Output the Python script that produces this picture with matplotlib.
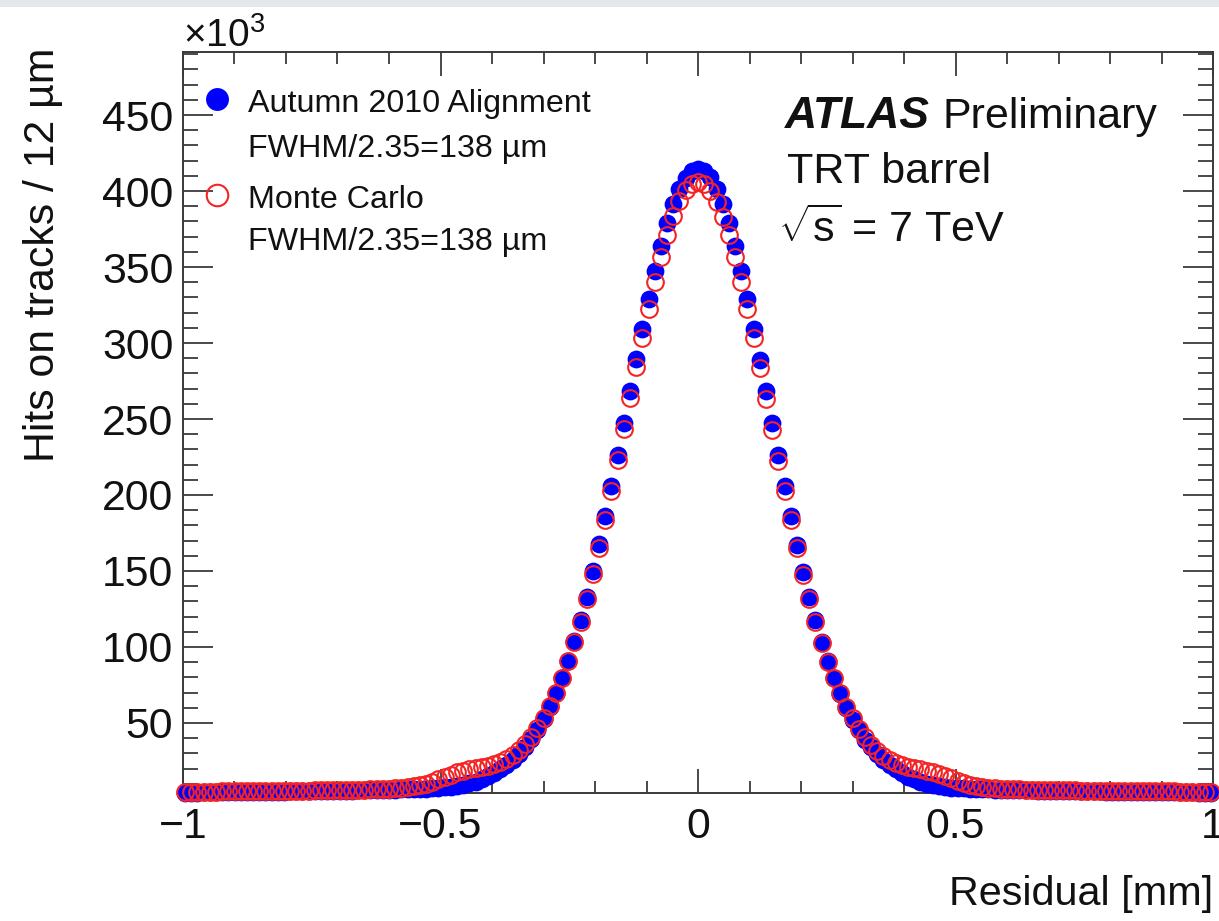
import numpy as np
import matplotlib
matplotlib.use("Agg")
import matplotlib.pyplot as plt
from matplotlib.ticker import FixedLocator, MultipleLocator, FixedFormatter
from matplotlib.patches import Rectangle

plt.rcParams["font.family"] = ["Liberation Sans", "DejaVu Sans"]
plt.rcParams["mathtext.fontset"] = "custom"
plt.rcParams["mathtext.rm"] = "Liberation Sans"
plt.rcParams["mathtext.it"] = "Liberation Sans:italic"
plt.rcParams["mathtext.bf"] = "Liberation Sans:bold"

# ---- histogram content: 12 um bins, counts in thousands of hits ----
BIN_WIDTH_MM = 0.012
bin_index = np.arange(-83, 84)
residual_mm = bin_index * BIN_WIDTH_MM

data_khits = [
    4.1, 4.2, 4.2, 4.3, 4.3, 4.3, 4.4, 4.4, 4.5, 4.5, 4.5, 4.6, 4.6, 4.7, 4.7, 4.8,
    4.8, 4.9, 4.9, 5.0, 5.0, 5.1, 5.2, 5.2, 5.3, 5.4, 5.4, 5.5, 5.6, 5.7, 5.8, 5.9,
    6.0, 6.1, 6.2, 6.3, 6.4, 6.5, 6.6, 6.8, 7.0, 7.3, 7.7, 8.1, 8.6, 9.3, 10.2, 11.4,
    13.0, 14.8, 17.0, 19.6, 22.6, 25.9, 29.8, 34.2, 39.4, 45.5, 52.4, 60.3, 69.4, 79.6,
    91.0, 103.8, 117.9, 133.2, 149.8, 167.6, 186.5, 206.2, 226.5, 247.4, 268.4, 289.3,
    309.5, 329.1, 347.3, 364.0, 378.8, 391.4, 401.5, 408.8, 413.3,
    414.6,
    413.5, 409.0, 401.6, 391.5, 378.9, 364.0, 347.3, 329.0, 309.4, 289.1, 268.2, 247.2,
    226.3, 205.9, 186.2, 167.3, 149.5, 132.9, 117.6, 103.5, 90.8, 79.3, 69.1, 60.0,
    52.1, 45.2, 39.1, 34.0, 29.6, 25.7, 22.4, 19.4, 16.8, 14.6, 12.8, 11.2, 10.0, 9.1,
    8.4, 7.9, 7.5, 7.1, 6.9, 6.7, 6.5, 6.4, 6.3, 6.2, 6.1, 6.0, 5.9, 5.8, 5.7, 5.6,
    5.5, 5.4, 5.4, 5.3, 5.2, 5.2, 5.1, 5.0, 5.0, 4.9, 4.9, 4.8, 4.8, 4.7, 4.7, 4.6,
    4.6, 4.5, 4.5, 4.5, 4.4, 4.4, 4.4, 4.3, 4.3, 4.3, 4.2, 4.2, 4.2,
]

mc_khits = [
    4.6, 4.7, 4.7, 4.8, 4.8, 4.8, 4.9, 4.9, 5.0, 5.0, 5.0, 5.1, 5.1, 5.2, 5.2, 5.3,
    5.3, 5.4, 5.4, 5.5, 5.5, 5.6, 5.7, 5.7, 5.8, 5.9, 5.9, 6.0, 6.1, 6.2, 6.3, 6.4,
    6.6, 6.8, 7.0, 7.3, 7.7, 8.3, 9.1, 10.1, 11.4, 12.9, 14.5, 16.0, 17.4, 18.6, 19.5,
    20.2, 20.9, 21.7, 22.7, 24.1, 26.1, 28.6, 31.9, 35.9, 40.8, 46.5, 53.2, 60.9, 69.6,
    79.5, 90.6, 103.0, 116.7, 131.6, 147.8, 165.1, 183.5, 202.8, 222.7, 243.1, 263.5,
    283.9, 303.6, 322.6, 340.4, 356.6, 371.1, 383.4, 393.2, 400.4, 404.7,
    406.2,
    404.5, 400.2, 393.0, 383.2, 370.9, 356.4, 340.2, 322.4, 303.4, 283.7, 263.3, 242.9,
    222.5, 202.6, 183.3, 164.9, 147.6, 131.4, 116.5, 102.8, 90.4, 79.3, 69.4, 60.7,
    53.0, 46.3, 40.6, 35.7, 31.6, 28.3, 25.7, 23.7, 22.2, 21.1, 20.2, 19.4, 18.6, 17.6,
    16.4, 15.0, 13.5, 12.0, 10.6, 9.4, 8.4, 7.7, 7.3, 7.0, 6.8, 6.6, 6.4, 6.3, 6.2,
    6.1, 6.0, 5.9, 5.9, 5.8, 5.7, 5.7, 5.6, 5.5, 5.5, 5.4, 5.4, 5.3, 5.3, 5.2, 5.2,
    5.1, 5.1, 5.0, 5.0, 5.0, 4.9, 4.9, 4.9, 4.8, 4.8, 4.8, 4.7, 4.7, 4.7,
]

x_tick_values = [-1, -0.5, 0, 0.5, 1]
x_tick_labels = ["\u22121", "\u22120.5", "0", "0.5", "1"]
y_tick_values = [50, 100, 150, 200, 250, 300, 350, 400, 450]
y_tick_labels = [str(v) for v in y_tick_values]

legend_lines = [
    ("Autumn 2010 Alignment", "FWHM/2.35=138 \u00b5m"),
    ("Monte Carlo", "FWHM/2.35=138 \u00b5m"),
]

# ---- figure layout in pixels ----
W, H = 1219, 921
def fx(px):
    return px / W
def fy(py):
    return 1 - py / H

fig = plt.figure(figsize=(W / 100, H / 100), dpi=100)
fig.patches.append(Rectangle((0, fy(7)), 1, 7 / H, transform=fig.transFigure,
                             facecolor="#e4e7eb", edgecolor="none", zorder=0))

ax = fig.add_axes([fx(183), fy(793), fx(1213) - fx(183), fy(52) - fy(793)])

BLUE = "#0000ff"
RED = "#f52424"
AXIS_GRAY = "#3a3a3a"
TEXT = "#111111"
LABEL_SIZE = 30.8

ax.plot(residual_mm, data_khits, linestyle="none", marker="o", ms=12.8,
        color=BLUE, mec=BLUE, mew=0, clip_on=False, zorder=3)
ax.plot(residual_mm, mc_khits, linestyle="none", marker="o", ms=12.0,
        mfc="none", mec=RED, mew=1.5, clip_on=False, zorder=4)

ax.set_xlim(-1, 1)
ax.set_ylim(3.9, 491.5)

ax.xaxis.set_major_locator(FixedLocator(x_tick_values))
ax.xaxis.set_major_formatter(FixedFormatter(x_tick_labels))
ax.xaxis.set_minor_locator(MultipleLocator(0.1))
ax.yaxis.set_major_locator(FixedLocator(y_tick_values))
ax.yaxis.set_major_formatter(FixedFormatter(y_tick_labels))
ax.yaxis.set_minor_locator(MultipleLocator(10))

for side in ax.spines.values():
    side.set_color(AXIS_GRAY)
    side.set_linewidth(1.4)

ax.tick_params(axis="both", which="both", direction="in", top=True, right=True,
               color=AXIS_GRAY, width=1.3, labelsize=LABEL_SIZE, labelcolor=TEXT)
ax.tick_params(axis="x", which="major", length=17, pad=10)
ax.tick_params(axis="x", which="minor", length=8.5)
ax.tick_params(axis="y", which="major", length=21.5, pad=7)
ax.tick_params(axis="y", which="minor", length=10.5)

# axis titles and multiplier
fig.text(fx(1213), fy(905), "Residual [mm]", ha="right", va="baseline",
         fontsize=29.8, color=TEXT)
fig.text(fx(43), fy(48), "Hits on tracks / 12 \u00b5m", rotation=90,
         ha="center", va="top", fontsize=LABEL_SIZE, color=TEXT)
fig.text(fx(183), fy(47), r"$\times10^{3}$", ha="left", va="baseline",
         fontsize=28, color=TEXT)

# legend
marker_x = fx(217)
fig.add_artist(plt.Line2D([marker_x], [fy(99)], transform=fig.transFigure,
                          marker="o", ms=16.5, color=BLUE, mew=0, linestyle="none"))
fig.add_artist(plt.Line2D([marker_x], [fy(195)], transform=fig.transFigure,
                          marker="o", ms=15.5, mfc="none", mec=RED, mew=1.5,
                          linestyle="none"))
legend_baselines = [(112, 157), (208, 250)]
for (title, width_text), (b1, b2) in zip(legend_lines, legend_baselines):
    fig.text(fx(248), fy(b1), title, ha="left", va="baseline", fontsize=23.2,
             color=TEXT)
    fig.text(fx(248), fy(b2), width_text, ha="left", va="baseline", fontsize=23.2,
             color=TEXT)

# experiment label
fig.text(fx(785), fy(128), "ATLAS", ha="left", va="baseline", fontsize=32,
         fontweight="bold", fontstyle="italic", color=TEXT)
fig.text(fx(942), fy(128), "Preliminary", ha="left", va="baseline", fontsize=31,
         color=TEXT)
fig.text(fx(787), fy(183), "TRT barrel", ha="left", va="baseline", fontsize=31,
         color=TEXT)
fig.text(fx(778), fy(242), r"$\sqrt{\mathrm{s}}$ = 7 TeV", ha="left", va="baseline",
         fontsize=31, color=TEXT)

fig.savefig("out.png", dpi=100, facecolor="white")
